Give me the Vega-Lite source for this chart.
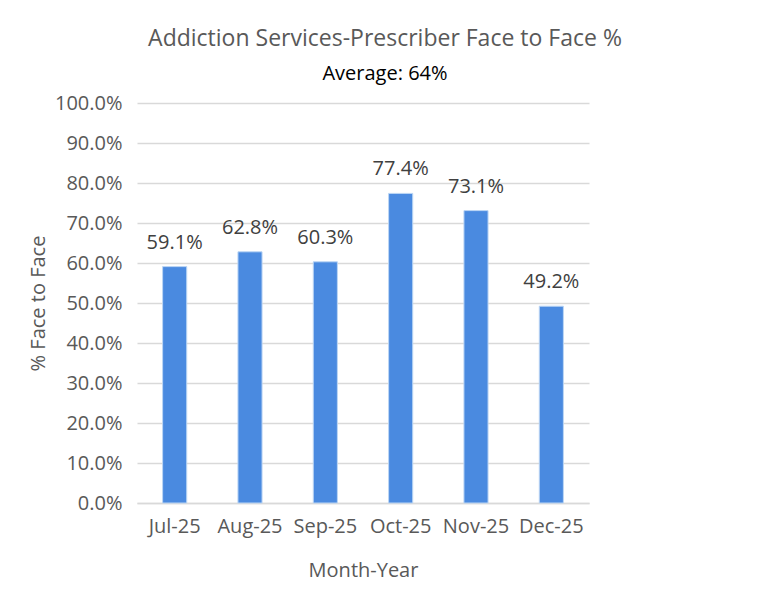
{
  "$schema": "https://vega.github.io/schema/vega-lite/v6.json",
  "width": 452,
  "height": 400,
  "autosize": "none",
  "padding": {"left": 137, "top": 103, "right": 181, "bottom": 96},
  "background": "white",
  "title": {
    "text": "Addiction Services-Prescriber Face to Face %",
    "subtitle": "Average: 64%",
    "anchor": "middle",
    "dx": 22,
    "offset": 9,
    "font": "Open Sans",
    "fontSize": 23,
    "fontWeight": "normal",
    "color": "#595959",
    "subtitleFont": "Open Sans",
    "subtitleFontSize": 20,
    "subtitleColor": "#000000",
    "subtitlePadding": 13
  },
  "data": {
    "values": [
      {"month": "Jul-25", "pct": 0.591},
      {"month": "Aug-25", "pct": 0.628},
      {"month": "Sep-25", "pct": 0.603},
      {"month": "Oct-25", "pct": 0.774},
      {"month": "Nov-25", "pct": 0.731},
      {"month": "Dec-25", "pct": 0.492}
    ]
  },
  "encoding": {
    "x": {
      "field": "month",
      "type": "nominal",
      "sort": null,
      "scale": {"paddingInner": 0.68, "paddingOuter": 0.34},
      "axis": {
        "title": "Month-Year",
        "labelAngle": 0,
        "ticks": false,
        "domainColor": "#d9d9d9",
        "domainWidth": 1.5,
        "labelPadding": 13,
        "titlePadding": 24
      }
    },
    "y": {
      "field": "pct",
      "type": "quantitative",
      "scale": {"domain": [0, 1]},
      "axis": {
        "title": "% Face to Face",
        "format": ".1%",
        "values": [0, 0.1, 0.2, 0.3, 0.4, 0.5, 0.6, 0.7, 0.8, 0.9, 1.0],
        "labelOverlap": false,
        "ticks": false,
        "domain": false,
        "gridColor": "#d9d9d9",
        "gridWidth": 1.5,
        "labelPadding": 15,
        "titlePadding": 6
      }
    }
  },
  "layer": [
    {
      "mark": {"type": "bar", "color": "#4a8ae0", "stroke": "#bcd6f4", "strokeWidth": 1}
    },
    {
      "mark": {"type": "text", "dy": -24, "baseline": "middle", "font": "Open Sans", "fontSize": 20, "color": "#404040"},
      "encoding": {"text": {"field": "pct", "type": "quantitative", "format": ".1%"}}
    }
  ],
  "config": {
    "view": {"stroke": null},
    "axis": {
      "labelFont": "Open Sans",
      "labelFontSize": 20,
      "labelColor": "#595959",
      "titleFont": "Open Sans",
      "titleFontSize": 20,
      "titleFontWeight": "normal",
      "titleColor": "#595959"
    }
  }
}
